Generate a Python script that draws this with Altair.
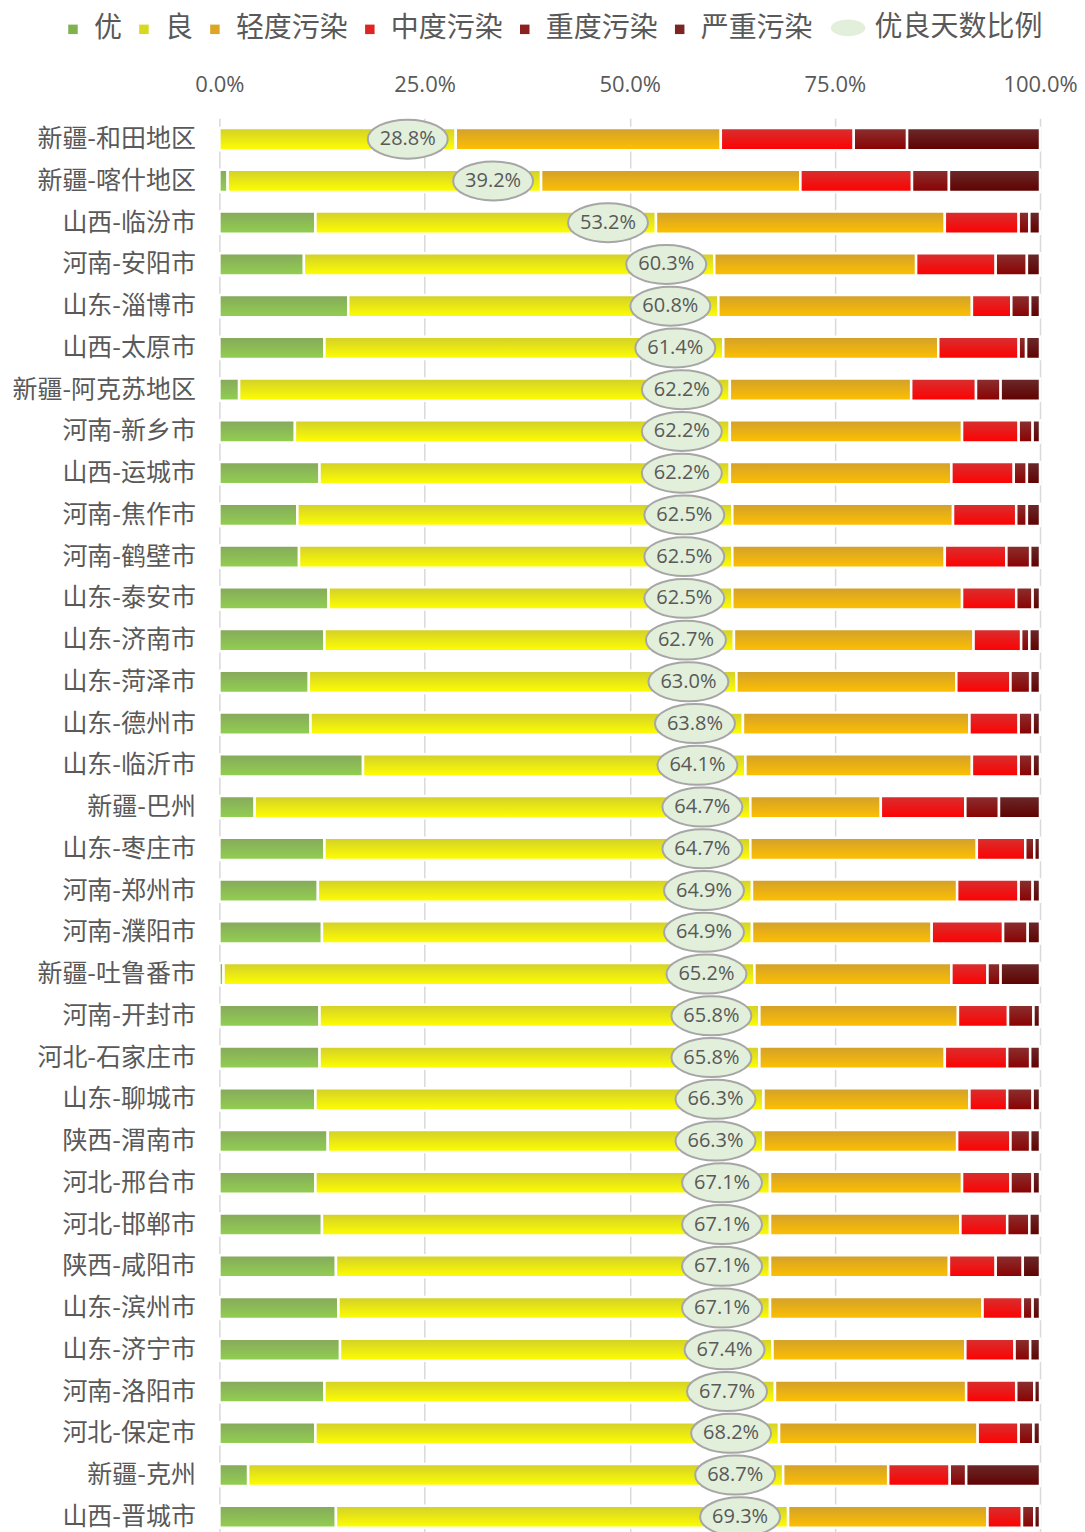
import altair as alt
import pandas as pd

cities = ["新疆-和田地区", "新疆-喀什地区", "山西-临汾市", "河南-安阳市", "山东-淄博市", "山西-太原市",
          "新疆-阿克苏地区", "河南-新乡市", "山西-运城市", "河南-焦作市", "河南-鹤壁市", "山东-泰安市",
          "山东-济南市", "山东-菏泽市", "山东-德州市", "山东-临沂市", "新疆-巴州", "山东-枣庄市",
          "河南-郑州市", "河南-濮阳市", "新疆-吐鲁番市", "河南-开封市", "河北-石家庄市", "山东-聊城市",
          "陕西-渭南市", "河北-邢台市", "河北-邯郸市", "陕西-咸阳市", "山东-滨州市", "山东-济宁市",
          "河南-洛阳市", "河北-保定市", "新疆-克州", "山西-晋城市"]

ratio = [28.8, 39.2, 53.2, 60.3, 60.8, 61.4, 62.2, 62.2, 62.2, 62.5, 62.5, 62.5, 62.7, 63.0, 63.8, 64.1,
         64.7, 64.7, 64.9, 64.9, 65.2, 65.8, 65.8, 66.3, 66.3, 67.1, 67.1, 67.1, 67.1, 67.4, 67.7, 68.2,
         68.7, 69.3]
you = [0.0, 1.0, 11.7, 10.3, 15.7, 12.8, 2.4, 9.2, 12.2, 9.5, 9.7, 13.3, 12.8, 10.9, 11.1, 17.5,
       4.3, 12.8, 12.0, 12.5, 0.5, 12.2, 12.2, 11.7, 13.2, 11.7, 12.5, 14.2, 14.5, 14.7, 12.8, 11.7,
       3.5, 14.2]
liang = [28.8, 38.2, 41.5, 50.0, 45.1, 48.6, 59.8, 53.0, 50.0, 53.0, 52.8, 49.2, 49.9, 52.1, 52.7, 46.6,
         60.4, 51.9, 52.9, 52.4, 64.7, 53.6, 53.6, 54.6, 53.1, 55.4, 54.6, 52.9, 52.6, 52.7, 54.9, 56.5,
         65.2, 55.1]
mild = [32.3, 31.6, 35.2, 24.6, 30.9, 26.2, 22.1, 28.3, 27.0, 26.9, 25.9, 28.0, 29.2, 26.8, 27.6, 27.6,
        15.9, 27.6, 25.0, 21.9, 24.0, 24.2, 22.6, 25.1, 23.6, 23.4, 23.2, 21.8, 25.9, 23.5, 23.3, 24.2,
        12.8, 24.3]
moderate = [16.2, 13.6, 9.0, 9.7, 4.8, 9.8, 7.9, 6.9, 7.6, 7.7, 7.5, 6.6, 5.8, 6.6, 6.0, 5.7,
            10.3, 5.9, 7.5, 8.7, 4.4, 6.1, 7.6, 4.6, 6.5, 5.9, 5.7, 5.7, 4.9, 6.0, 6.1, 5.0,
            7.5, 4.2]
heavy = [6.5, 4.5, 1.3, 3.8, 2.3, 0.9, 3.0, 1.7, 1.6, 1.3, 2.9, 2.0, 1.0, 2.4, 1.7, 1.7,
         4.1, 1.1, 1.7, 3.0, 1.6, 3.1, 2.8, 3.1, 2.4, 2.7, 2.7, 3.3, 1.2, 1.9, 2.2, 1.8,
         2.0, 1.5]
severe = [16.2, 11.1, 1.3, 1.6, 1.2, 1.7, 4.8, 0.9, 1.6, 1.6, 1.2, 0.9, 1.3, 1.2, 0.9, 0.9,
          5.0, 0.7, 0.9, 1.5, 4.8, 0.8, 1.2, 0.9, 1.2, 0.9, 1.3, 2.1, 0.9, 1.2, 0.7, 0.8,
          9.0, 0.7]

series = ["优", "良", "轻度污染", "中度污染", "重度污染", "严重污染"]
legend_colors = ["#7fb24f", "#d8d820", "#dca523", "#e02424", "#8c2020", "#7b2525"]
grad_stops = [("#86a85c", "#92d050"), ("#d2cf2a", "#ffff00"), ("#d1a02c", "#ffc000"),
              ("#d63030", "#ff0000"), ("#8a3030", "#8b0000"), ("#6b2a2a", "#600000")]
ratio_label = "优良天数比例"

values = [you, liang, mild, moderate, heavy, severe]
rows = []
for k, (s, vals) in enumerate(zip(series, values)):
    for c, v in zip(cities, vals):
        rows.append({"city": c, "series": s, "k": k, "value": v})
bars_df = pd.DataFrame(rows)
lab_df = pd.DataFrame({"city": cities, "ratio": ratio, "lab": [ratio_label] * len(cities)})

def grad(c1, c2):
    return {"gradient": "linear", "x1": 0, "y1": 0, "x2": 0, "y2": 1,
            "stops": [{"offset": 0, "color": c1}, {"offset": 1, "color": c2}]}

conds = [{"test": f"datum.series === '{s}'", "value": grad(a, b)} for s, (a, b) in zip(series, grad_stops)]

grey = "#595959"
cjk = "Noto Sans CJK SC"
num_font = "Open Sans"
PL = 219.5

yenc = alt.Y("city:N", sort=cities, title=None,
             scale=alt.Scale(range=[0, 1420], paddingInner=0.47, paddingOuter=0.235),
             axis=alt.Axis(domain=False, ticks=False, labelFont=cjk, labelFontSize=25,
                           labelColor=grey, labelPadding=24, grid=False, labelLimit=400))
xscale = alt.Scale(domain=[0, 100], nice=False)

bars = alt.Chart(bars_df).mark_bar(stroke="white", strokeWidth=2.5).encode(
    y=yenc,
    x=alt.X("value:Q", stack="zero", scale=xscale, title=None,
            axis=alt.Axis(orient="top", values=[0, 25, 50, 75, 100],
                          labelExpr="format(datum.value, '.1f') + '%'",
                          domain=False, ticks=False, labelFont=num_font, labelFontSize=22,
                          labelColor=grey, labelPadding=22, labelFlush=False, grid=True,
                          gridColor="#d9d9d9", gridWidth=1.5)),
    order=alt.Order("k:Q", sort="ascending"),
    fill=alt.Fill(field="series", type="nominal",
                  scale=alt.Scale(domain=series, range=legend_colors),
                  legend=alt.Legend(title=None, orient="none", direction="horizontal",
                                    legendX=59 - PL, legendY=-103,
                                    symbolType="square", symbolSize=90, symbolStrokeWidth=0,
                                    labelFont=cjk, labelFontSize=28, labelColor=grey,
                                    labelOffset=7, columnPadding=7, labelLimit=300),
                  condition=conds),
)

ell_path = ("M -1 0 C -1 -0.269 -0.552 -0.4875 0 -0.4875 C 0.552 -0.4875 1 -0.269 1 0 "
            "C 1 0.269 0.552 0.4875 0 0.4875 C -0.552 0.4875 -1 0.269 -1 0 Z")

ellipses = alt.Chart(lab_df).mark_point(filled=True, fill="#e2efda", stroke="#a6a6a6",
                                        strokeWidth=2, opacity=1, size=6400, xOffset=-48).encode(
    y=alt.Y("city:N", sort=cities),
    x=alt.X("ratio:Q", scale=xscale),
    shape=alt.Shape("lab:N", scale=alt.Scale(domain=[ratio_label], range=[ell_path]),
                    legend=alt.Legend(title=None, orient="none", legendX=830 - PL, legendY=-109,
                                      symbolSize=1200, symbolFillColor="#e2efda",
                                      symbolStrokeColor="#a6a6a6", symbolStrokeWidth=1.5,
                                      labelFont=cjk, labelFontSize=28, labelColor=grey,
                                      labelOffset=8, labelLimit=300)),
)

texts = alt.Chart(lab_df).transform_calculate(
    txt="format(datum.ratio, '.1f') + '%'"
).mark_text(xOffset=-48, font=num_font, fontSize=20, color=grey).encode(
    y=alt.Y("city:N", sort=cities),
    x=alt.X("ratio:Q", scale=xscale),
    text="txt:N",
)

chart = alt.layer(bars, ellipses, texts).properties(
    width=821, height=1414,
    autosize=alt.AutoSizeParams(type="none"),
    padding={"left": 211.5, "top": 110, "right": 37, "bottom": 0},
).configure_view(stroke=None)

chart.save("out.html", embed_options={"renderer": "svg", "actions": False})
